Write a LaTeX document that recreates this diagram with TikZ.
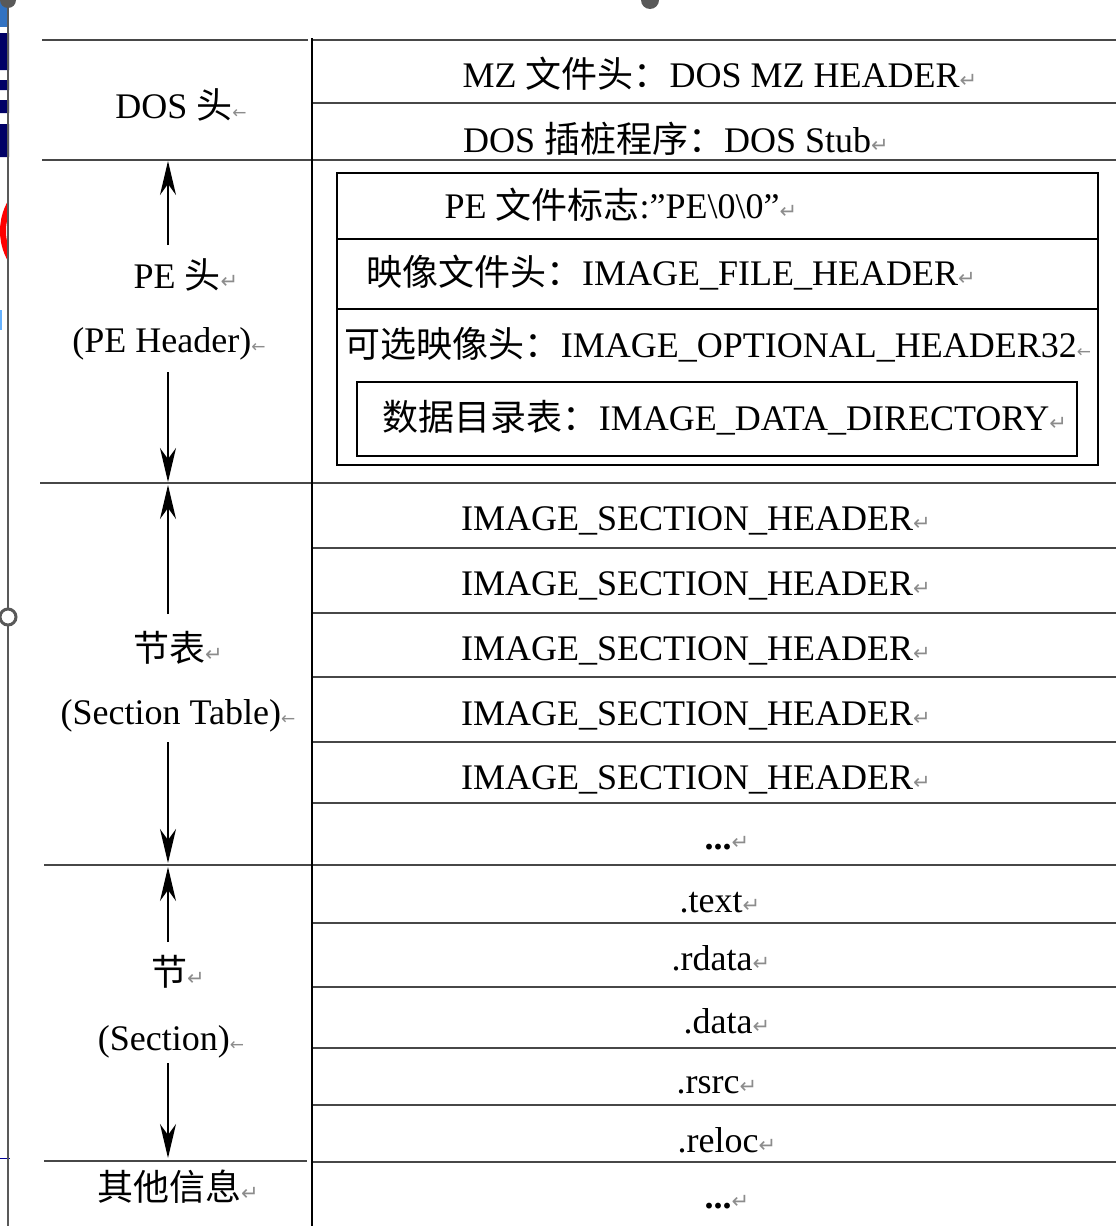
\documentclass[tikz,border=0pt]{standalone}
\usepackage{fontspec}
\setmainfont{Liberation Serif}
\newfontfamily\cjk{Noto Sans CJK SC}
\newfontfamily\markfont{DejaVu Sans}
\usetikzlibrary{arrows.meta}
\newcommand{\parmark}{{\markfont\fontsize{21}{21}\selectfont\textcolor{black!45}{↵}}}
\newcommand{\cellmark}{{\markfont\fontsize{17}{17}\selectfont\textcolor{black!45}{←}}}

\begin{document}
\begin{tikzpicture}[x=1pt,y=-1pt,every node/.style={font=\fontsize{36}{40}\selectfont,inner sep=0pt,anchor=base},
	rule/.style={line width=2.7pt,draw=black!72},
	dir/.style={line width=2pt,-{Stealth[length=34pt,width=16pt,inset=11pt]}}]
\useasboundingbox (0,0) rectangle (1116,1226);

%window edge
\fill[blue!55!cyan!70!black!80] (0,0) rectangle (9,27);
\fill[blue!40!black] (0,33) rectangle (9,70) (0,80) rectangle (9,90) (0,100) rectangle (9,113) (0,124) rectangle (9,157);
\fill[blue!50!cyan!60] (0,310) rectangle (2,330);
\begin{scope}
\clip (0,0) rectangle (8,1226);
\draw[red,line width=6pt] (61,231) circle (58);
\end{scope}
\draw[blue!60!black,line width=1pt] (0,1158) -- (10,1158);
\draw[black!65,line width=2pt] (8,0) -- (8,1226);
\fill[black!65] (8,0) circle (8) (650,0) circle (9);
\draw[black!65,fill=white,line width=3pt] (8,617) circle (8);

%left labels
\node (dos) at (181,118){DOS {\cjk 头}\cellmark};
\node (pe) at (186,288){PE {\cjk 头}\parmark};
\node (peen) at (169,352){(PE Header)\cellmark};
\node (st) at (178,661){{\cjk 节表}\parmark};
\node (sten) at (178,724){(Section Table)\cellmark};
\node (sec) at (178,985){{\cjk 节}\parmark};
\node (secen) at (171,1050){(Section)\cellmark};
\node (other) at (178,1200){{\cjk 其他信息}\parmark};

%right cells
\node (mz) at (720,87){MZ {\cjk 文件头：}DOS MZ HEADER\parmark};
\node (stub) at (676,152){DOS {\cjk 插桩程序：}DOS Stub\parmark};
\node (sig) at (621,218){PE {\cjk 文件标志}:”PE\textbackslash 0\textbackslash 0”\parmark};
\node (fh) at (671,285){{\cjk 映像文件头：}IMAGE\_FILE\_HEADER\parmark};
\node (oh) at (718,357){{\cjk 可选映像头：}IMAGE\_OPTIONAL\_HEADER32\cellmark};
\node (dd) at (725,430){{\cjk 数据目录表：}IMAGE\_DATA\_DIRECTORY\parmark};
\foreach \y [count=\i] in {530,595,660,725,789}
	\node (sh\i) at (696,\y){IMAGE\_SECTION\_HEADER\parmark};
\node (shmore) at (727,849){\textbf{...}\parmark};
\node (text) at (720,912){.text\parmark};
\node (rdata) at (721,970){.rdata\parmark};
\node (data) at (727,1033){.data\parmark};
\node (rsrc) at (717,1093){.rsrc\parmark};
\node (reloc) at (727,1152){.reloc\parmark};
\node (more) at (727,1208){\textbf{...}\parmark};

%table rules
\draw[rule] (42,40) -- (308,40);
\draw[rule] (312,40) -- (1116,40);
\draw[rule] (312,103) -- (1116,103);
\draw[rule] (42,160) -- (1116,160);
\draw[rule] (40,483) -- (1116,483);
\foreach \y in {548,613,677,742,803}
	\draw[rule] (312,\y) -- (1116,\y);
\draw[rule] (44,865) -- (1116,865);
\foreach \y in {923,987,1048,1105,1162}
	\draw[rule] (312,\y) -- (1116,\y);
\draw[rule] (44,1161) -- (307,1161);
\draw[line width=2.5pt] (312,38) -- (312,1226);

%pe header boxes
\draw[line width=2.5pt] (337,173) rectangle (1098,465);
\draw[line width=2.5pt] (337,239) -- (1098,239);
\draw[line width=2.5pt] (337,309) -- (1098,309);
\draw[line width=2.5pt] (357,382) rectangle (1077,456);

%extent arrows
\coordinate (peup) at (168,245);
\coordinate (petop) at (168,161);
\coordinate (pedown) at (168,372);
\coordinate (pebot) at (168,482);
\coordinate (stup) at (168,614);
\coordinate (sttop) at (168,485);
\coordinate (stdown) at (168,742);
\coordinate (stbot) at (168,863);
\coordinate (secup) at (168,942);
\coordinate (sectop) at (168,867);
\coordinate (secdown) at (168,1063);
\coordinate (secbot) at (168,1158);
\draw[dir] (peup) -- (petop);
\draw[dir] (pedown) -- (pebot);
\draw[dir] (stup) -- (sttop);
\draw[dir] (stdown) -- (stbot);
\draw[dir] (secup) -- (sectop);
\draw[dir] (secdown) -- (secbot);
\end{tikzpicture}
\end{document}
